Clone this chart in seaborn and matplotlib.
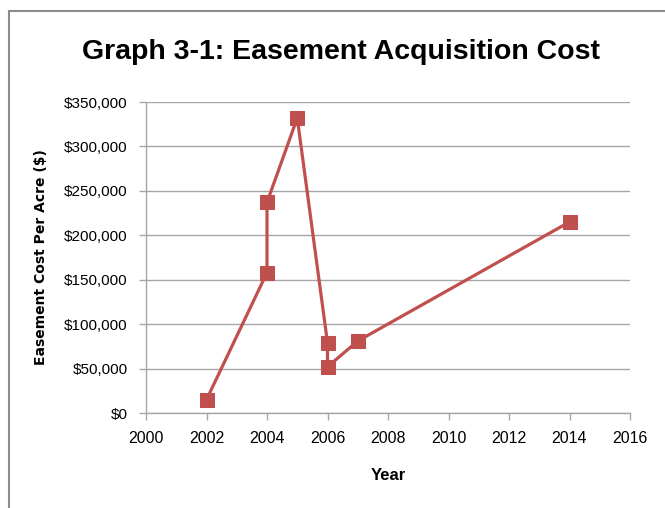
import matplotlib
matplotlib.use("Agg")
import matplotlib.pyplot as plt
import seaborn as sns
import pandas as pd
from matplotlib.patches import Rectangle
from matplotlib.ticker import FuncFormatter

# Valores (ordem de ligação da linha)
years = [2002, 2004, 2004, 2005, 2006, 2006, 2007, 2014]
cost_per_acre = [15000, 158000, 237000, 332000, 79000, 52000, 81000, 215000]

x_ticks = list(range(2000, 2017, 2))
y_ticks = list(range(0, 350001, 50000))

df = pd.DataFrame({"Year": years, "Cost": cost_per_acre})

sns.set_theme(style="white")
plt.rcParams["font.family"] = ["Liberation Sans", "DejaVu Sans"]
plt.rcParams["text.color"] = "black"
plt.rcParams["xtick.color"] = "black"
plt.rcParams["ytick.color"] = "black"

fig = plt.figure(figsize=(6.65, 5.08), dpi=100)
ax = fig.add_axes([146 / 665, 95 / 508, 484 / 665, 311 / 508])

# moldura externa cinza
fig.patches.append(Rectangle((9 / 665, -0.01), 1.02, (508 - 11) / 508 + 0.01,
                             transform=fig.transFigure, fill=False,
                             edgecolor="#8c8c8c", linewidth=1.5))

sns.lineplot(data=df, x="Year", y="Cost", sort=False, estimator=None, ax=ax,
             color="#c0504d", linewidth=2.3, marker="s", markersize=10.5,
             markeredgecolor="#c0504d")

ax.set_xlim(2000, 2016)
ax.set_ylim(0, 350000)
ax.set_xticks(x_ticks)
ax.set_yticks(y_ticks)
ax.yaxis.set_major_formatter(FuncFormatter(lambda v, p: f"${v:,.0f}"))
ax.grid(axis="y", color="#a6a6a6", linewidth=1)
ax.grid(axis="x", visible=False)
ax.set_axisbelow(True)

for s in ["top", "right"]:
    ax.spines[s].set_visible(False)
for s in ["left", "bottom"]:
    ax.spines[s].set_color("#a6a6a6")
    ax.spines[s].set_linewidth(1)

ax.tick_params(axis="both", which="major", length=5, width=1, color="#a6a6a6",
               labelsize=11, labelcolor="black", direction="out",
               bottom=True, left=True)
ax.tick_params(axis="x", pad=8, labelsize=11.5)
ax.tick_params(axis="y", pad=8)

ax.set_xlabel("Year", fontsize=12, fontweight="bold", labelpad=16, color="black")
ax.set_ylabel("Easement Cost Per Acre ($)", fontsize=10, fontweight="bold",
              family=["DejaVu Sans"], labelpad=12, color="black")

fig.text(341 / 665, 1 - 52 / 508, "Graph 3-1: Easement Acquisition Cost",
         ha="center", va="center", fontsize=20.5, fontweight="bold", color="black")

fig.savefig("out.png", dpi=100)
plt.close(fig)
